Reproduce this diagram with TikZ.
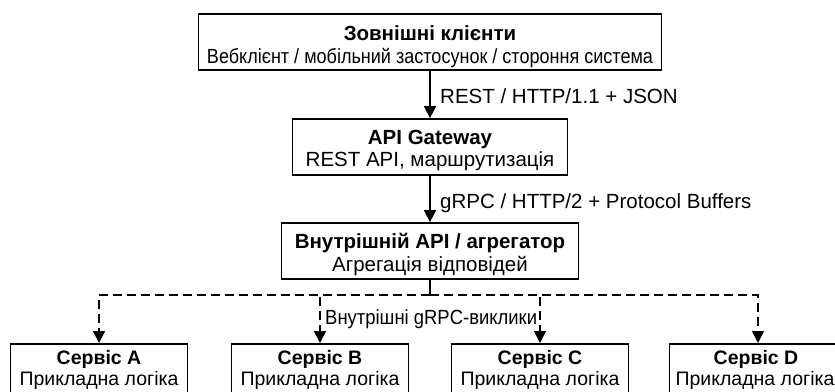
\documentclass[tikz,border=0pt]{standalone}
\usepackage{fontspec}
\setmainfont{Liberation Sans}
\usetikzlibrary{arrows.meta}
\begin{document}
\begin{tikzpicture}[x=1pt,y=-1pt,
  box/.style={draw, line width=1.7pt, inner sep=0pt},
  svc/.style={box, minimum width=177pt, minimum height=60pt, anchor=north},
  txt/.style={anchor=base, inner sep=0pt, font=\fontsize{20.5}{23}\selectfont},
  ttl/.style={txt, font=\fontsize{20.5}{23}\selectfont\bfseries},
  stxt/.style={anchor=base, inner sep=0pt, font=\fontsize{19.5}{22}\selectfont},
  sttl/.style={stxt, font=\fontsize{19.5}{22}\selectfont\bfseries},
  lbl/.style={anchor=base west, inner sep=0pt, font=\fontsize{20.5}{23}\selectfont},
  conn/.style={line width=1.5pt, -{Triangle[length=12pt,width=12pt]}},
  dconn/.style={conn, dash pattern=on 9pt off 5pt}]
\useasboundingbox (0,0) rectangle (835,391);
\clip (0,0) rectangle (835,391);
% boxes
\node[box, minimum width=463pt, minimum height=56pt] (top) at (430,42) {};
\node[ttl] (topT) at (430,40.5) {Зовнішні клієнти};
\node[txt] (topS) at (430,63) {\scalebox{0.88}[1]{Вебклієнт / мобільний застосунок / стороння система}};
\node[box, minimum width=275pt, minimum height=56pt] (api) at (430,147) {};
\node[ttl] (apiT) at (430,144) {API Gateway};
\node[txt] (apiS) at (430,166.5) {REST API, маршрутизація};
\node[box, minimum width=297pt, minimum height=56pt] (agg) at (430,251) {};
\node[ttl] (aggT) at (430,248.5) {Внутрішній API / агрегатор};
\node[txt] (aggS) at (430,271.5) {Агрегація відповідей};
\node[svc] (sa) at (99,343) {};
\node[svc] (sb) at (320,343) {};
\node[svc] (sc) at (540,343) {};
\node[svc] (sd) at (758,343) {};
\node[sttl] (saT) at (99,364.5) {Сервіс A};
\node[stxt] (saS) at (99,385.5) {Прикладна логіка};
\node[sttl] (sbT) at (320,364.5) {Сервіс B};
\node[stxt] (sbS) at (320,385.5) {Прикладна логіка};
\node[sttl] (scT) at (540,364.5) {Сервіс C};
\node[stxt] (scS) at (540,385.5) {Прикладна логіка};
\node[sttl] (sdT) at (756,364.5) {Сервіс D};
\node[stxt] (sdS) at (755,385.5) {Прикладна логіка};
% connectors
\coordinate (bus) at (430,295);
\draw[conn] (top.south) -- (api.north);
\draw[conn] (api.south) -- (agg.north);
\draw[line width=1.5pt] (agg.south) -- (bus);
\draw[dconn] (bus) -| (sa.north);
\draw[dconn] (bus) -| (sb.north);
\draw[dconn] (bus) -| (sc.north);
\draw[dconn] (bus) -| (sd.north);
% labels
\node[lbl] (l1) at (440,103) {REST / HTTP/1.1 + JSON};
\node[lbl] (l2) at (440,208) {gRPC / HTTP/2 + Protocol Buffers};
\node[lbl] (l3) at (325,324) {\scalebox{0.9}[1]{Внутрішні gRPC-виклики}};
\end{tikzpicture}
\end{document}
